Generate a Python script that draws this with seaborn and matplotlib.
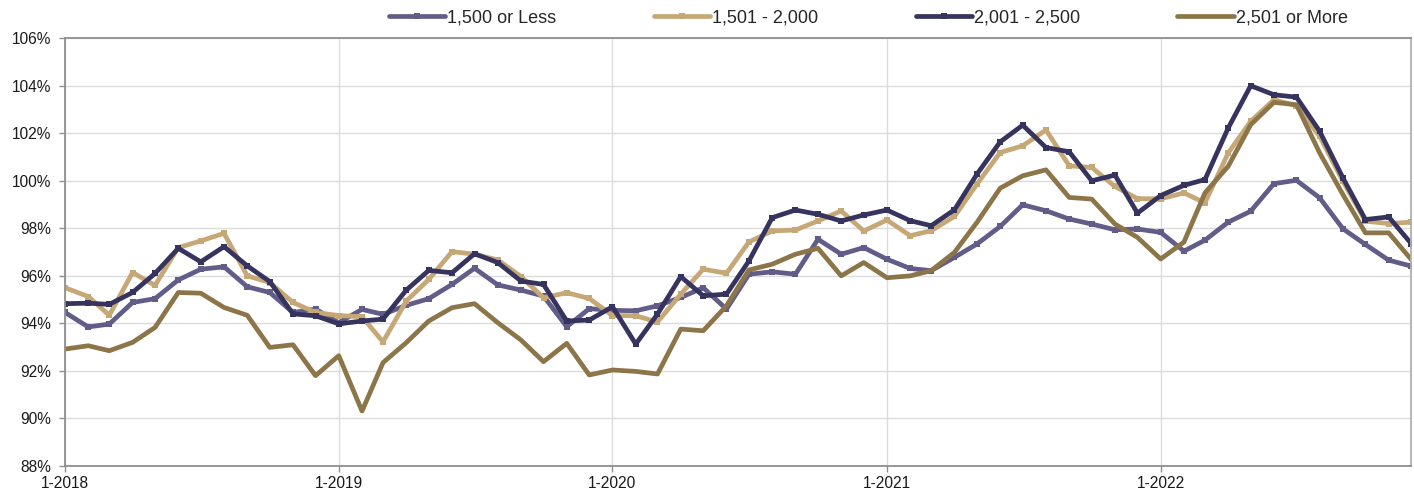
import matplotlib
matplotlib.use("Agg")
import matplotlib.pyplot as plt
from matplotlib.ticker import FuncFormatter, MultipleLocator
import pandas as pd
import seaborn as sns

# Monthly ratio (%) by home size band, Jan 2018 - Dec 2022
months = pd.date_range("2018-01-01", periods=60, freq="MS")

size_1500_or_less = [
    94.46, 93.85, 93.97, 94.88, 95.04, 95.83, 96.28, 96.38, 95.54, 95.30, 94.46, 94.60,
    94.03, 94.59, 94.38, 94.76, 95.04, 95.64, 96.32, 95.62, 95.40, 95.15, 93.86, 94.62,
    94.55, 94.53, 94.74, 95.09, 95.50, 94.60, 96.07, 96.17, 96.07, 97.54, 96.91, 97.19,
    96.70, 96.31, 96.22, 96.78, 97.34, 98.08, 98.99, 98.74, 98.39, 98.18, 97.94, 97.97,
    97.83, 97.04, 97.50, 98.26, 98.72, 99.88, 100.02, 99.28, 97.98, 97.32, 96.66, 96.41,
]
size_1501_2000 = [
    95.50, 95.13, 94.34, 96.14, 95.60, 97.19, 97.47, 97.79, 96.00, 95.72, 94.88, 94.46,
    94.33, 94.28, 93.22, 94.94, 95.85, 97.02, 96.91, 96.67, 95.97, 95.08, 95.29, 95.05,
    94.33, 94.32, 94.06, 95.23, 96.28, 96.11, 97.43, 97.89, 97.93, 98.31, 98.73, 97.89,
    98.35, 97.69, 97.90, 98.50, 99.86, 101.19, 101.47, 102.14, 100.63, 100.56, 99.76, 99.25,
    99.24, 99.49, 99.07, 101.17, 102.50, 103.41, 103.16, 101.87, 99.98, 98.30, 98.20, 98.26,
]
size_2001_2500 = [
    94.83, 94.85, 94.80, 95.30, 96.10, 97.16, 96.59, 97.23, 96.42, 95.76, 94.40, 94.32,
    93.98, 94.10, 94.18, 95.40, 96.23, 96.13, 96.93, 96.56, 95.78, 95.64, 94.10, 94.14,
    94.70, 93.13, 94.39, 95.97, 95.16, 95.23, 96.63, 98.45, 98.77, 98.59, 98.31, 98.56,
    98.77, 98.32, 98.11, 98.78, 100.28, 101.64, 102.34, 101.40, 101.22, 100.00, 100.24, 98.64,
    99.38, 99.81, 100.05, 102.22, 104.00, 103.62, 103.52, 102.08, 100.12, 98.37, 98.48, 97.36,
]
size_2501_or_more = [
    92.92, 93.06, 92.85, 93.20, 93.83, 95.30, 95.27, 94.67, 94.34, 92.99, 93.10, 91.80,
    92.64, 90.31, 92.35, 93.19, 94.10, 94.66, 94.83, 94.03, 93.30, 92.39, 93.16, 91.83,
    92.04, 91.98, 91.87, 93.76, 93.69, 94.74, 96.25, 96.49, 96.91, 97.16, 96.00, 96.56,
    95.92, 96.00, 96.22, 96.99, 98.25, 99.69, 100.21, 100.46, 99.30, 99.23, 98.18, 97.62,
    96.71, 97.42, 99.49, 100.61, 102.36, 103.30, 103.20, 101.17, 99.42, 97.81, 97.81, 96.69,
]

series_names = ["1,500 or Less", "1,501 - 2,000", "2,001 - 2,500", "2,501 or More"]
series_values = [size_1500_or_less, size_1501_2000, size_2001_2500, size_2501_or_more]
colors = ["#625d88", "#c6a877", "#36335e", "#8c7649"]
markers = ["s", "s", "s", None]

df = pd.concat(
    [pd.DataFrame({"month": months, "value": v, "band": n})
     for n, v in zip(series_names, series_values)],
    ignore_index=True,
)

sns.set_theme(style="white")
plt.rcParams["font.family"] = ["Liberation Sans", "DejaVu Sans"]

fig = plt.figure(figsize=(14.14, 4.96), dpi=100)
ax = fig.add_axes([0.046, 0.0605, 0.952, 0.8625])

for name, color, mk in zip(series_names, colors, markers):
    sub = df[df["band"] == name]
    sns.lineplot(
        data=sub, x="month", y="value", ax=ax, color=color, linewidth=3.4,
        marker=mk, markersize=5, markeredgewidth=0, label=name,
    )

ax.set_xlim(months[0], months[-1])
ax.set_ylim(88, 106)
ax.yaxis.set_major_locator(MultipleLocator(2))
ax.yaxis.set_major_formatter(FuncFormatter(lambda v, _: f"{v:.0f}%"))

jan_ticks = [m for m in months if m.month == 1]
ax.set_xticks(jan_ticks)
ax.set_xticklabels([f"1-{m.year}" for m in jan_ticks])

ax.set_xlabel("")
ax.set_ylabel("")
ax.grid(True, axis="both", color="#dcdcdc", linewidth=1.0)
ax.set_axisbelow(True)

for side in ["left", "bottom", "top", "right"]:
    ax.spines[side].set_visible(True)
    ax.spines[side].set_color("#8f8f8f")
    ax.spines[side].set_linewidth(1.3)
ax.spines["right"].set_color("#b0b0b0")

ax.tick_params(axis="both", which="major", direction="out", length=4,
               width=1.0, color="#8f8f8f", labelsize=11.2, labelcolor="#1a1a1a",
               bottom=True, left=True)
ax.tick_params(axis="y", pad=6)
ax.tick_params(axis="x", pad=3)

leg = ax.legend(
    loc="center", bbox_to_anchor=(0.614, 0.964), bbox_transform=fig.transFigure,
    ncol=4, frameon=False, fontsize=13, handlelength=3.15, handletextpad=0.08,
    columnspacing=5.4, numpoints=1,
)
for h in leg.get_lines():
    h.set_linewidth(3.4)
    h.set_solid_capstyle("round")

fig.savefig("out.png", dpi=100)
